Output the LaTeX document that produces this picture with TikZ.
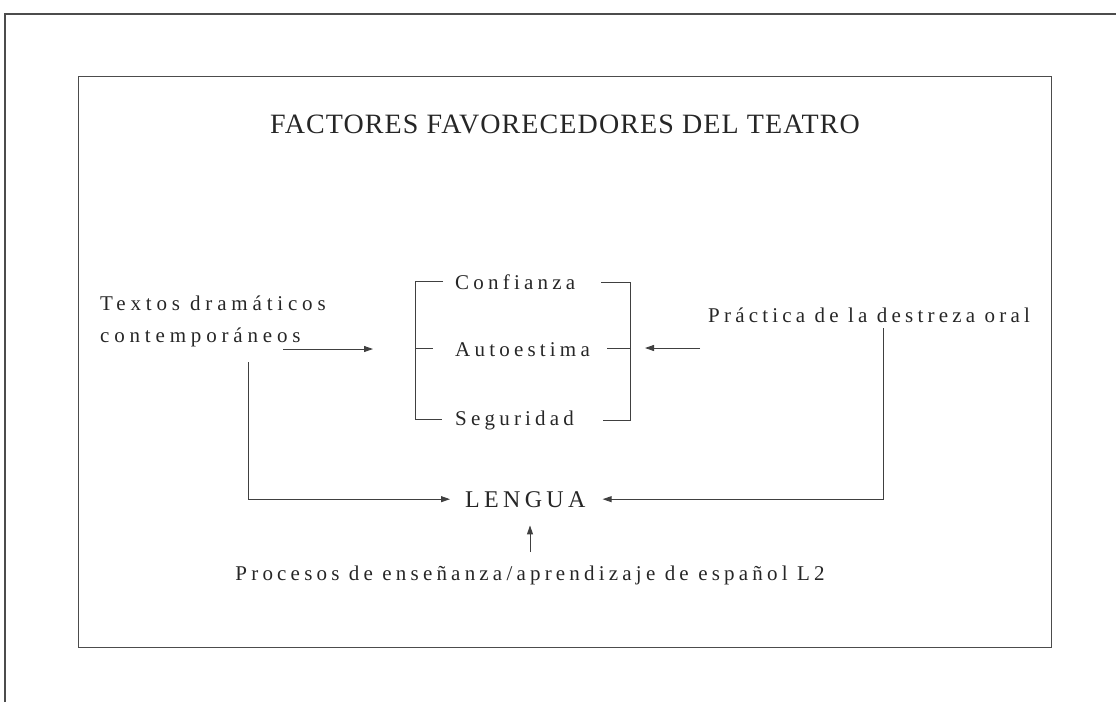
\documentclass[tikz,border=0pt]{standalone}
\usepackage{fontspec}
\setmainfont{Liberation Serif}
\usetikzlibrary{arrows.meta}
\begin{document}
\begin{tikzpicture}[x=1pt,y=-1pt,
  lbl/.style={font=\fontsize{21}{25}\selectfont\addfontfeatures{LetterSpace=20}, inner sep=0pt, anchor=base west, text=black!85},
  conn/.style={draw=black!75, line width=0.9pt},
  arr/.style={conn, -{Triangle[length=9pt,width=6pt]}},
  frame/.style={draw=black!70, line width=1pt}]
\useasboundingbox (0,0) rectangle (1116,702);
% frames
\draw[frame, line width=1.4pt] (5,702) -- (5,14) -- (1116,14);
\draw[frame] (78,76) rectangle (1051,647);
% title
\node[font=\fontsize{28}{33}\selectfont\addfontfeatures{LetterSpace=4}, inner sep=0pt, anchor=base, text=black!85] (title) at (565,133) {FACTORES FAVORECEDORES DEL TEATRO};
% left texts
\node[lbl, font=\fontsize{21}{25}\selectfont\addfontfeatures{LetterSpace=23}] (textos1) at (100,310) {Textos dramáticos};
\node[lbl, font=\fontsize{21}{25}\selectfont\addfontfeatures{LetterSpace=23}] (textos2) at (100,342) {contemporáneos};
% bracket items
\node[lbl] (conf) at (455,289) {Confianza};
\node[lbl] (auto) at (455,356) {Autoestima};
\node[lbl] (segu) at (455,425) {Seguridad};
% right text
\node[lbl] (prac) at (708,322) {Práctica de la destreza oral};
% center
\node[lbl, font=\fontsize{24}{28}\selectfont\addfontfeatures{LetterSpace=18}] (lengua) at (465,507) {LENGUA};
\node[lbl, anchor=base] (proc) at (530,580) {Procesos de enseñanza/aprendizaje de español L2};
% bracket coordinates
\coordinate (lt) at (415,281);
\coordinate (lb) at (415,419);
\coordinate (rt) at (630,282);
\coordinate (rb) at (630,420);
\draw[conn] (443,281) -- (lt) -- (lb) -- (442,419);
\draw[conn] (415,348) -- (433,348);
\draw[conn] (601,282) -- (rt) -- (rb) -- (603,420);
\draw[conn] (607,348) -- (630,348);
% arrows into brackets
\coordinate (la) at (283,349);
\coordinate (ra) at (700,348);
\draw[arr] (la) -- (373,349);
\draw[arr] (ra) -- (645,348);
% connectors to LENGUA
\coordinate (lc) at (248,362);
\coordinate (rc) at (883,328);
\draw[arr] (lc) |- ([xshift=-15pt]lengua.west);
\draw[arr] (rc) |- ([xshift=17pt]lengua.east);
\draw[arr] ([yshift=13pt]proc.north) -- ([yshift=-18pt]proc.north |- lengua.south);
\end{tikzpicture}
\end{document}
